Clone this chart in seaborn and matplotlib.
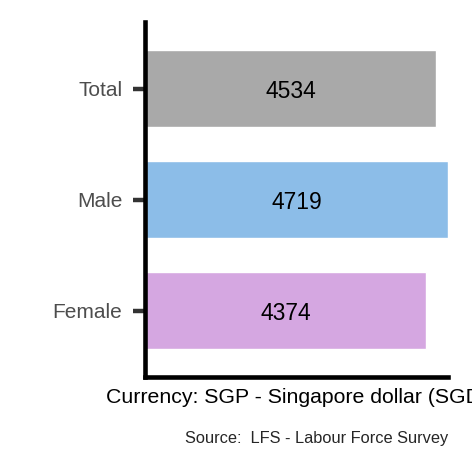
import matplotlib
matplotlib.use("Agg")
import matplotlib.pyplot as plt
import seaborn as sns
import pandas as pd

categories = ["Total", "Male", "Female"]
values = [4534, 4719, 4374]
colors = ["#A9A9A9", "#8CBDE8", "#D5A7E1"]

df = pd.DataFrame({"sex": categories, "value": values})

sns.set_style("white")
plt.rcParams["font.family"] = ["Liberation Sans", "DejaVu Sans"]

fig = plt.figure(figsize=(4.72, 4.72), dpi=100)
ax = fig.add_axes([0.308, 0.201, 0.641, 0.752])
sns.barplot(data=df, y="sex", x="value", hue="sex", palette=colors,
            order=categories, width=0.69, legend=False, ax=ax, saturation=1)

for i, v in enumerate(values):
    ax.text(v / 2, i, str(v), ha="center", va="center_baseline", fontsize=16.5, color="black")

ax.set_xlim(0, max(values))
ax.set_ylim(2.6, -0.6)
ax.set_xticks([])
ax.set_ylabel("")
ax.set_xlabel("Currency: SGP - Singapore dollar (SGD)", fontsize=15.3, color="black", labelpad=8)
ax.tick_params(axis="y", length=8.6, width=3.2, color="#333333", labelsize=15, labelcolor="#4D4D4D", pad=7.9, left=True)
for s in ["top", "right"]:
    ax.spines[s].set_visible(False)
for s in ["left", "bottom"]:
    ax.spines[s].set_linewidth(3.3)
    ax.spines[s].set_color("black")
    ax.spines[s].set_zorder(5)

fig.text(0.949, 0.07, "Source:  LFS - Labour Force Survey", ha="right", va="center", fontsize=11.8)

fig.savefig("out.png", dpi=100)
